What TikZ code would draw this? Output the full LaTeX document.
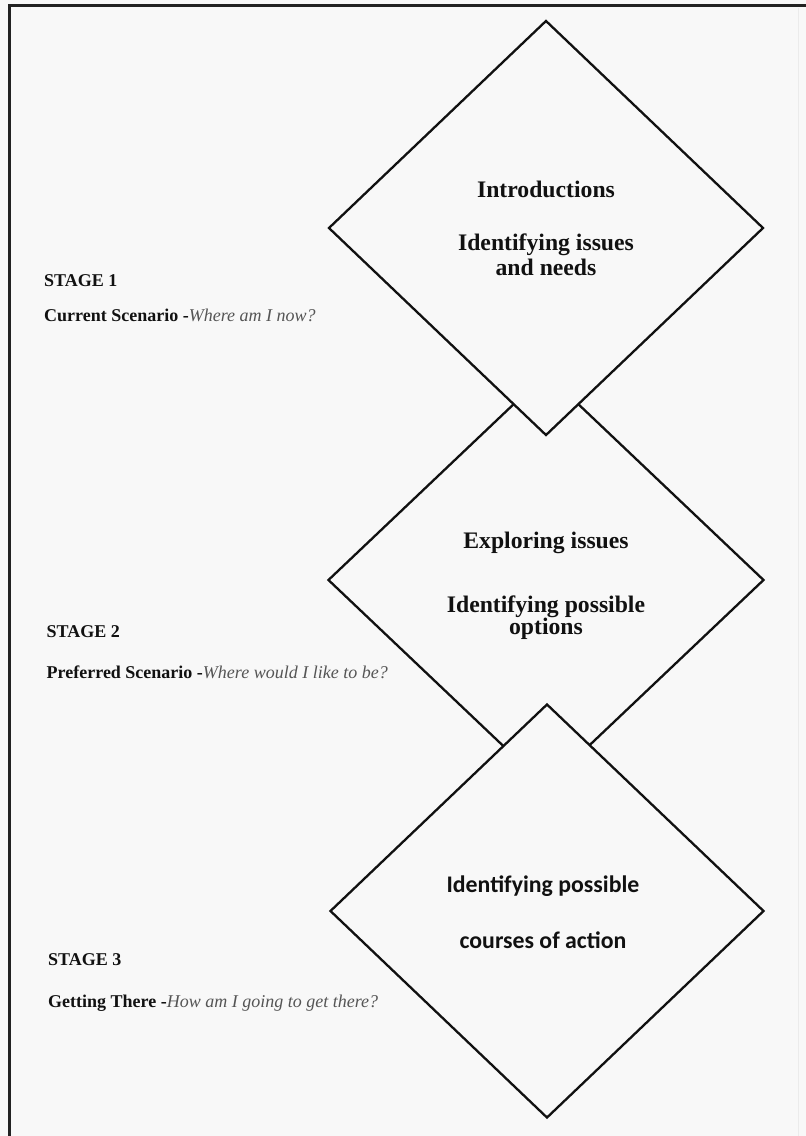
\documentclass[tikz,border=0pt]{standalone}
\usepackage{fontspec}
\setmainfont{Liberation Serif}
\newfontfamily\calibfont{Carlito}
\usetikzlibrary{shapes.geometric}
\definecolor{paper}{HTML}{F8F8F8}
\definecolor{ink}{HTML}{111111}
\definecolor{softink}{HTML}{555555}
\definecolor{frameink}{HTML}{222222}
\tikzset{
  stagebox/.style={diamond, draw=ink, line width=2.3pt, fill=paper, inner sep=0pt,
    minimum width=435pt, minimum height=415pt},
  boxtext/.style={anchor=base, inner sep=0pt, text=ink, font=\fontsize{23.7}{25}\selectfont\bfseries},
  sanstext/.style={anchor=base, inner sep=0pt, text=ink, font=\calibfont\fontsize{23.8}{25}\selectfont\bfseries},
  stagehead/.style={anchor=base west, inner sep=0pt, text=ink, font=\fontsize{18}{20}\selectfont\bfseries},
  stageline/.style={anchor=base west, inner sep=0pt, text=ink, font=\fontsize{18}{20}\selectfont},
}
\newcommand{\askq}[1]{{\itshape\color{softink}#1}}
\begin{document}
\begin{tikzpicture}[x=1pt, y=-1pt]
  % page background and frame
  \fill[paper] (0,0) rectangle (806,1136);
  \useasboundingbox (0,0) rectangle (806,1136);
  \draw[black!8, line width=1pt] (798,8) -- (798,1136);
  \draw[frameink, line width=3pt] (9,1136) -- (9,5) -- (806,5);

  % the middle diamond lies beneath the other two
  \node[stagebox, minimum height=414pt, minimum width=436pt] (d2) at (546,580) {};
  \node[stagebox] (d1) at (546,228) {};
  \node[stagebox, minimum height=414pt, minimum width=434pt] (d3) at (547,911) {};

  % diamond texts
  \node[boxtext] (t1a) at (546,197) {Introductions};
  \node[boxtext] (t1b) at (546,250) {Identifying issues};
  \node[boxtext] (t1c) at (546,275) {and needs};

  \node[boxtext] (t2a) at (546,548) {Exploring issues};
  \node[boxtext] (t2b) at (546,612) {Identifying possible};
  \node[boxtext] (t2c) at (546,634) {options};

  \node[sanstext] (t3a) at (543,892) {Identifying possible};
  \node[sanstext] (t3b) at (543,948) {courses of action};

  % stage descriptions
  \node[stagehead] (s1) at (44,286) {STAGE 1};
  \node[stageline] (s1q) at (44,321) {\textbf{Current Scenario -}\askq{Where am I now?}};

  \node[stagehead] (s2) at (46.5,637) {STAGE 2};
  \node[stageline] (s2q) at (46.5,678) {\textbf{Preferred Scenario -}\askq{Where would I like to be?}};

  \node[stagehead] (s3) at (48,965) {STAGE 3};
  \node[stageline] (s3q) at (48,1007) {\textbf{Getting There -}\askq{How am I going to get there?}};
\end{tikzpicture}
\end{document}
